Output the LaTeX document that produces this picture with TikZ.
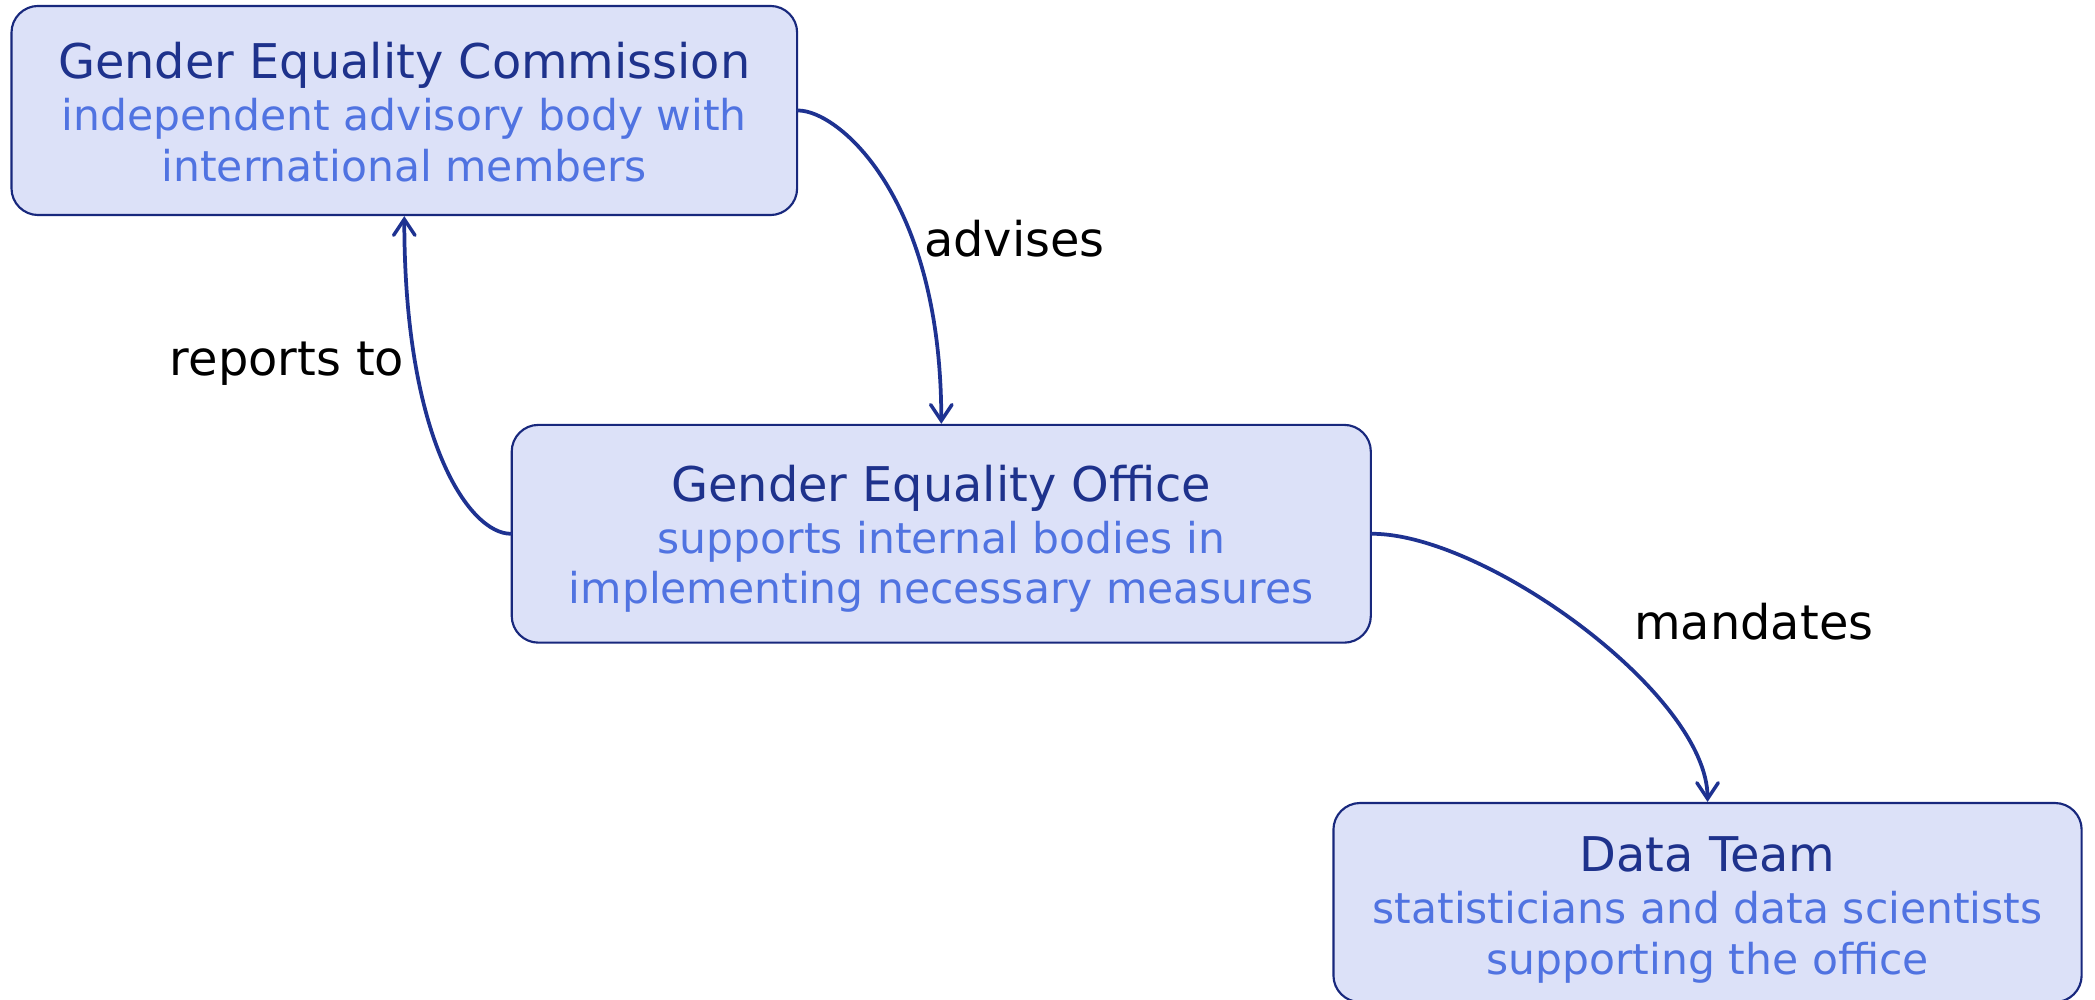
\documentclass[tikz,border=0pt]{standalone}
\usepackage{fontspec}
\setmainfont{DejaVu Sans}
\usetikzlibrary{arrows.meta}
\definecolor{boxfill}{RGB}{220,225,248}
\definecolor{boxline}{RGB}{24,40,125}
\definecolor{titlecol}{RGB}{30,50,140}
\definecolor{subcol}{RGB}{80,115,225}
\definecolor{conncol}{RGB}{30,50,145}
\tikzset{
  orgbox/.style={draw=boxline, fill=boxfill, line width=1.6pt, rounded corners=20pt, inner sep=0pt},
  ttl/.style={anchor=base, inner sep=0pt, text=titlecol, font=\fontsize{35.8pt}{40pt}\selectfont},
  sub/.style={anchor=base, inner sep=0pt, text=subcol, font=\fontsize{31.8pt}{36pt}\selectfont},
  lbl/.style={anchor=base west, inner sep=0pt, text=black, font=\fontsize{35.8pt}{40pt}\selectfont},
  conn/.style={draw=conncol, line width=2.8pt, line cap=round,
    -{Straight Barb[length=12pt,width=16pt,line width=2.6pt,line cap=round]}}
}
\begin{document}
\begin{tikzpicture}[x=1pt,y=-1pt]
\useasboundingbox (0,0) rectangle (1568,748.4);
% boxes
\node[orgbox, minimum width=588pt, minimum height=156.5pt] (gec) at (302.6,82.7) {};
\node[orgbox, minimum width=643pt, minimum height=163pt] (geo) at (704.5,399.5) {};
\node[orgbox, minimum width=560pt, minimum height=149pt] (dt) at (1278,675.5) {};
% texts
\node[ttl] (gecT) at (302.6,59) {Gender Equality Commission};
\node[sub] (gecS1) at (302.6,97.5) {independent advisory body with};
\node[sub] (gecS2) at (302.6,136) {international members};
\node[ttl] (geoT) at (704.5,375) {Gender Equality Office};
\node[sub] (geoS1) at (704.5,414) {supports internal bodies in};
\node[sub] (geoS2) at (704.5,452) {implementing necessary measures};
\node[ttl] (dtT) at (1278,652.5) {Data Team};
\node[sub] (dtS1) at (1278,691) {statisticians and data scientists};
\node[sub] (dtS2) at (1278,729) {supporting the office};
% connectors
\draw[conn] (gec.east) .. controls +(30,0) and +(0,-170) .. (geo.north);
\draw[conn] (geo.west) .. controls +(-30,0) and +(0,170) .. (gec.south);
\draw[conn] (geo.east) .. controls +(85,0) and +(0,-80) .. (dt.north);
% labels
\node[lbl] (lAdv) at (691.5,192) {advises};
\node[lbl] (lRep) at (127,281) {reports to};
\node[lbl] (lMan) at (1223,479) {mandates};
\end{tikzpicture}
\end{document}
